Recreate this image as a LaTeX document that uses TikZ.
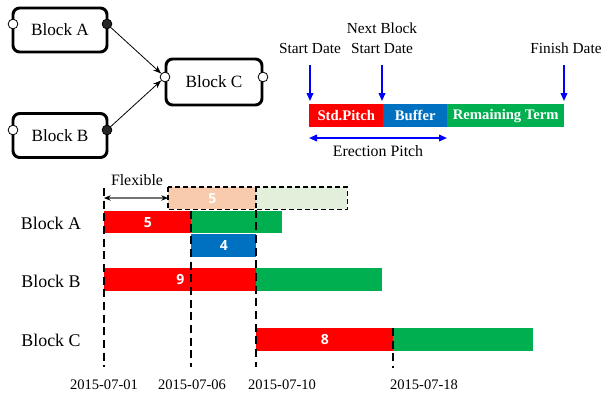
\documentclass[tikz,border=0pt]{standalone}
\usepackage{fontspec}
\setmainfont{Liberation Serif}
\newfontfamily\numfont{Open Sans}
\usetikzlibrary{arrows.meta}
\definecolor{cred}{HTML}{FF0000}
\definecolor{cblue}{HTML}{0070C0}
\definecolor{cgreen}{HTML}{00B050}
\definecolor{cpeach}{HTML}{F8CBAD}
\definecolor{clgreen}{HTML}{E2EFDA}
\definecolor{arrblue}{HTML}{0000FF}
\tikzset{
  blockbox/.style={draw=black, line width=2.2pt, rounded corners=5pt, fill=white,
    font=\fontsize{12.9}{14}\selectfont, inner sep=0pt},
  port/.style={circle, draw=black, line width=0.6pt, fill=white, minimum size=7.3pt, inner sep=0pt},
  portfull/.style={port, fill=black!85},
  link/.style={-{Stealth[length=6pt,width=4.5pt]}, line width=0.6pt},
  wpx/.style={minimum width=#1*0.75pt},
  hpx/.style={minimum height=#1*0.75pt},
  seg/.style={inner sep=0pt, anchor=north west, text=white},
  toplbl/.style={font=\fontsize{11}{12}\selectfont\bfseries, text=white},
  numlbl/.style={font=\numfont\fontsize{10.5}{12}\selectfont\bfseries, text=white},
  bluearr/.style={draw=arrblue, line width=1.2pt, -{Triangle[length=6pt,width=5pt]}},
  bluedbl/.style={draw=arrblue, line width=1.2pt, {Triangle[length=6pt,width=5pt]}-{Triangle[length=6pt,width=5pt]}},
  txt/.style={font=\fontsize{11.5}{13}\selectfont, inner sep=0pt},
  datelbl/.style={font=\fontsize{10.9}{12}\selectfont, inner sep=0pt},
  rowlbl/.style={font=\fontsize{13.4}{15}\selectfont, inner sep=0pt},
  vdash/.style={draw=black, line width=0.9pt, dash pattern=on 6pt off 3.5pt},
  boxdash/.style={draw=black, line width=1pt, dash pattern=on 3.5pt off 2.5pt},
}
\begin{document}
\begin{tikzpicture}[x=0.75pt,y=-0.75pt]
\useasboundingbox (0,0) rectangle (604,394);

% ---- dependency graph ----
\node[blockbox, wpx=94, hpx=44] (A) at (60,30) {Block A};
\node[blockbox, wpx=94, hpx=44] (B) at (60,135.5) {Block B};
\node[blockbox, wpx=96, hpx=46] (C) at (214,82) {Block C};
\node[port] (Ain) at (13,24) {};
\node[portfull] (Aout) at (107,24) {};
\node[port] (Bin) at (13,130) {};
\node[portfull] (Bout) at (107,130) {};
\node[port] (Cin) at (165,77) {};
\node[port] (Cout) at (263,77) {};
\draw[link] (Aout) -- (Cin);
\draw[link] (Bout) -- (Cin);

% ---- legend bar ----
\node[seg, fill=cred, wpx=74, hpx=23, toplbl] (std) at (309,104) {Std.Pitch};
\node[seg, fill=cblue, wpx=64, hpx=23, toplbl] (buf) at (383,104) {Buffer};
\node[seg, fill=cgreen, wpx=117, hpx=23, toplbl] (rem) at (447,104) {Remaining Term};
\node[txt] (sd) at (310,48) {Start Date};
\node[txt] (nb) at (382,28) {Next Block};
\node[txt] (nsd) at (382,48) {Start Date};
\node[txt] (fd) at (566,48) {Finish Date};
\coordinate (a1s) at (310,65);
\coordinate (a1e) at (310,101);
\coordinate (a2s) at (382,65);
\coordinate (a2e) at (382,101);
\coordinate (a3s) at (564,65);
\coordinate (a3e) at (564,101);
\draw[bluearr] (a1s) -- (a1e);
\draw[bluearr] (a2s) -- (a2e);
\draw[bluearr] (a3s) -- (a3e);
\coordinate (ep1) at (309,138);
\coordinate (ep2) at (447,138);
\draw[bluedbl] (ep1) -- (ep2);
\node[txt, font=\fontsize{11.9}{13}\selectfont] (ep) at (378,151) {Erection Pitch};

% ---- gantt ----
\node[seg, fill=cpeach, wpx=88, hpx=22, numlbl] (flexA) at (168,187) {5};
\node[seg, fill=clgreen, wpx=91, hpx=22] (flexB) at (256,187) {};
\draw[boxdash] (flexA.north west) rectangle (flexB.south east);

\node[seg, fill=cred, wpx=87, hpx=22, numlbl] (a5) at (104,211) {5};
\node[seg, fill=cgreen, wpx=91, hpx=22] (ag) at (191,211) {};
\node[seg, fill=cblue, wpx=65, hpx=23, numlbl] (a4) at (191,234) {4};
\node[seg, fill=cred, wpx=152, hpx=23, numlbl] (b9) at (104,268) {9};
\node[seg, fill=cgreen, wpx=126, hpx=23] (bg) at (256,268) {};
\node[seg, fill=cred, wpx=137, hpx=23, numlbl] (c8) at (256,328) {8};
\node[seg, fill=cgreen, wpx=140, hpx=23] (cg) at (393,328) {};

\node[txt, font=\fontsize{11.9}{13}\selectfont] (flex) at (137,180) {Flexible};
\coordinate (f1) at (104,198);
\coordinate (f2) at (168,198);
\draw[black!55, line width=0.8pt, {Stealth[length=5pt,width=4pt,black]}-{Stealth[length=5pt,width=4pt,black]}] (f1) -- (f2);

\coordinate (v1t) at (104,188);
\coordinate (v1b) at (104,367);
\coordinate (v2t) at (191,211);
\coordinate (v2b) at (191,367);
\coordinate (v3t) at (256,187);
\coordinate (v3b) at (256,367);
\coordinate (v4t) at (393,328);
\coordinate (v4b) at (393,368);
\draw[vdash] (v1t) -- (v1b);
\draw[vdash] (v2t) -- (v2b);
\draw[boxdash] (v3t) -- (flexB.south west);
\draw[vdash] (flexB.south west) -- (v3b);
\draw[vdash] (v4t) -- (v4b);

\node[rowlbl] (la) at (51,223) {Block A};
\node[rowlbl] (lb) at (51,281) {Block B};
\node[rowlbl] (lc) at (51,340) {Block C};

\node[datelbl] (d1) at (104,385) {2015-07-01};
\node[datelbl] (d2) at (192,385) {2015-07-06};
\node[datelbl] (d3) at (282,385) {2015-07-10};
\node[datelbl] (d4) at (424,385) {2015-07-18};
\end{tikzpicture}
\end{document}
